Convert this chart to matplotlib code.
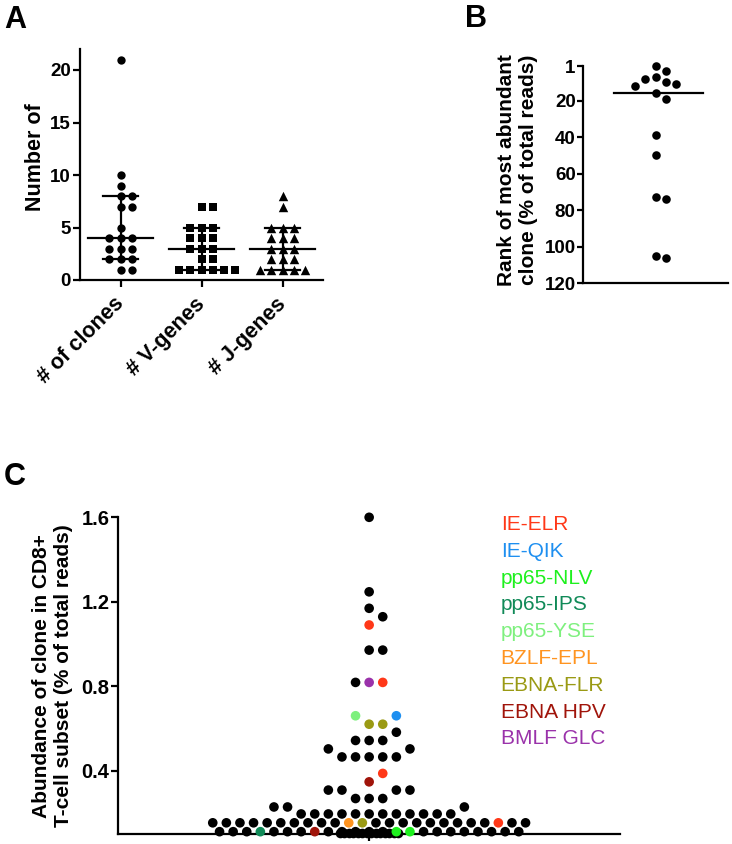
import numpy as np
import matplotlib.pyplot as plt

plt.rcParams['font.family'] = ['Liberation Sans', 'DejaVu Sans']
plt.rcParams['font.weight'] = 'bold'
plt.rcParams['axes.labelweight'] = 'bold'

W, H = 732, 844  # output size in px (dpi 100)

# ---------------- data ----------------
# panel A: per-sample counts
a_labels = ['# of clones', '# V-genes', '# J-genes']
a_clones = [21, 10, 9, 8, 8, 7, 7, 5, 4, 4, 4, 3, 3, 3, 2, 2, 2, 1, 1]
a_vgenes = [7, 7, 5, 5, 5, 4, 4, 4, 3, 3, 3, 2, 2, 1, 1, 1, 1, 1, 1]
a_jgenes = [8, 7, 5, 5, 5, 4, 4, 4, 3, 3, 3, 2, 2, 2, 1, 1, 1, 1, 1]
a_markers = ['o', 's', '^']
a_sizes = [36, 38, 46]
a_yticks = [0, 5, 10, 15, 20]

# panel B: rank of the most abundant clone
b_rank = [1, 4, 7, 8, 10, 11, 12, 16, 19, 39, 50, 73, 74, 105, 106]
b_yticks = [1, 20, 40, 60, 80, 100, 120]

# panel C: abundance rows (value, number of clones in that row)
c_row_vals = [0.111, 0.153, 0.195, 0.228, 0.268, 0.308, 0.347, 0.387, 0.465, 0.503,
              0.543, 0.582, 0.620, 0.660, 0.818, 0.971, 1.090, 1.129, 1.169, 1.247, 1.600]
c_row_n = [23, 24, 12, 3, 3, 4, 1, 1, 5, 2, 3, 1, 2, 2, 3, 2, 1, 1, 1, 1, 1]
c_floor = [0.105] * 14  # clones at the detection floor, packed tight
# epitope specific clones: row value, place in the row, epitope
c_tag_row = [0.111, 0.111, 0.111, 0.111, 0.153, 0.153, 0.153, 0.347, 0.387,
             0.620, 0.620, 0.660, 0.660, 0.818, 0.818, 1.090]
c_tag_pos = [3, 5, 8, 16, 1, 3, 18, 0, 0, 0, 1, 0, 1, 0, 1, 0]
c_tag_epi = ['pp65-NLV', 'pp65-NLV', 'EBNA HPV', 'pp65-IPS', 'EBNA-FLR', 'BZLF-EPL',
             'IE-ELR', 'EBNA HPV', 'IE-ELR', 'EBNA-FLR', 'EBNA-FLR', 'pp65-YSE',
             'IE-QIK', 'BMLF GLC', 'IE-ELR', 'IE-ELR']
c_yticks = [0.4, 0.8, 1.2, 1.6]

epitopes = ['IE-ELR', 'IE-QIK', 'pp65-NLV', 'pp65-IPS', 'pp65-YSE',
            'BZLF-EPL', 'EBNA-FLR', 'EBNA HPV', 'BMLF GLC']
epi_colors = ['#ff3818', '#1e8ff0', '#1ef01e', '#108a58', '#7ef07e',
              '#ff9420', '#9a9a14', '#a0140a', '#9a32aa']


def swarm(vals, px_val, reach_y, step=0.5):
    # horizontal offsets (in dot slots), lowest values placed first
    vals = np.asarray(vals, float)
    out = np.zeros(len(vals))
    placed = []
    c = np.arange(0, 40, step)
    cands = sorted(set(np.concatenate([c, -c])), key=lambda v: (abs(v), -v))
    for i in np.argsort(vals, kind='stable'):
        y = vals[i] * px_val
        near = [(x0, abs(y - y0)) for x0, y0 in placed if abs(y - y0) < reach_y]
        for cx in cands:
            if all(abs(cx - x0) >= np.sqrt(1 - (dy / reach_y) ** 2) - 1e-9 for x0, dy in near):
                out[i] = cx
                placed.append((cx, y))
                break
    return out


def style(ax, fs, tl=5):
    for s in ['top', 'right']:
        ax.spines[s].set_visible(False)
    for s in ['left', 'bottom']:
        ax.spines[s].set_linewidth(1.6)
    ax.tick_params(direction='out', length=tl, width=1.6, labelsize=fs, pad=1.5)


fig = plt.figure(figsize=(W / 100, H / 100), dpi=100)

# ---------------- A ----------------
axA = fig.add_axes([80 / W, 1 - 280 / H, 243 / W, 231 / H])
style(axA, 13.5)
axA.set_xlim(-0.5, 2.5)
axA.set_ylim(0, 22)
slot = 11.3 / 81.0
for g, d in enumerate([a_clones, a_vgenes, a_jgenes]):
    off = swarm(d, 231 / 22, 8)
    axA.scatter(g + off * slot, d, s=a_sizes[g], marker=a_markers[g], c='black',
                linewidths=0, zorder=3, clip_on=False)
    q1, med, q3 = np.percentile(d, [25, 50, 75], method='weibull')
    axA.plot([g - 0.4, g + 0.4], [med, med], color='black', lw=1.6, zorder=4)
    axA.plot([g, g], [q1, q3], color='black', lw=1.6, zorder=4)
    for q in (q1, q3):
        axA.plot([g - 0.215, g + 0.215], [q, q], color='black', lw=1.6, zorder=4)
axA.set_yticks(a_yticks)
axA.set_xticks(range(3))
axA.set_xticklabels(a_labels, rotation=45, ha='right', va='center',
                    rotation_mode='anchor', fontsize=15.5)
axA.tick_params(axis='x', pad=10)
axA.set_ylabel('Number of', fontsize=15.5)
axA.yaxis.set_label_coords(-0.14, 0.53)

# ---------------- B ----------------
axB = fig.add_axes([583.3 / W, 1 - 283.3 / H, 144.7 / W, 217.3 / H])
style(axB, 13.5, tl=4)
half = 144.7 / 2 / 10.3
axB.set_xlim(-half, half)
axB.set_ylim(120, 1)
offB = swarm(b_rank, 217.3 / 119, 9.5)
axB.scatter(offB, b_rank, s=38, c='black', linewidths=0, zorder=3, clip_on=False)
medB = np.median(b_rank)
axB.plot([-4.0, 4.6], [medB, medB], color='black', lw=1.6, zorder=4)
axB.set_yticks(b_yticks)
axB.set_xticks([])
axB.set_ylabel('Rank of most abundant\nclone (% of total reads)', fontsize=15)
axB.yaxis.set_label_coords(-0.31, 0.52)

# ---------------- C ----------------
axC = fig.add_axes([118.3 / W, 1 - 834 / H, 501.7 / W, 316.7 / H])
style(axC, 14.5)
halfC = 501.7 / 2 / 13.6
axC.set_xlim(-halfC, halfC)
axC.set_ylim(0.1, 1.6)
c_vals = np.repeat(c_row_vals, c_row_n)
c_cols = ['black'] * len(c_vals)
starts = np.concatenate([[0], np.cumsum(c_row_n)[:-1]])
for r, p, e in zip(c_tag_row, c_tag_pos, c_tag_epi):
    c_cols[starts[c_row_vals.index(r)] + p] = epi_colors[epitopes.index(e)]
offC = swarm(c_vals, 316.7 / 1.5, 10)
nf = len(c_floor)
axC.scatter((np.arange(nf) - (nf - 1) / 2) * 0.33, c_floor, s=48, c='black',
            linewidths=0, zorder=3, clip_on=False)
axC.scatter(offC, c_vals, s=48, c=c_cols, linewidths=0, zorder=4, clip_on=False)
axC.set_yticks(c_yticks)
axC.set_xticks([0])
axC.set_xticklabels([''])
axC.set_ylabel('Abundance of clone in CD8+\nT-cell subset (% of total reads)', fontsize=15)
axC.yaxis.set_label_coords(-0.09, 0.5)

for i, (e, col) in enumerate(zip(epitopes, epi_colors)):
    fig.text(500.7 / W, 1 - (530 + i * 26.8) / H, e, color=col, fontsize=15,
             fontweight='normal', va='baseline')

# panel letters
for x, y, t in [(4, 28.3, 'A'), (465, 26.7, 'B'), (3.5, 485, 'C')]:
    fig.text(x / W, 1 - y / H, t, fontsize=22, va='baseline')

fig.savefig('out.png', dpi=100)
